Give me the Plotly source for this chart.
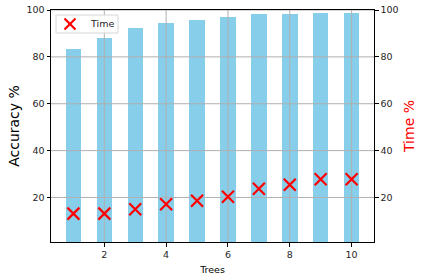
import plotly.graph_objects as go

trees = [1, 2, 3, 4, 5, 6, 7, 8, 9, 10]
accuracy = [83.5, 88.2, 92.5, 94.6, 95.9, 97.2, 98.1, 98.5, 98.9, 98.9]
time_pct = [13.1, 13.1, 15.0, 17.1, 18.6, 20.3, 23.7, 25.4, 27.8, 27.8]
x_ticks = [2, 4, 6, 8, 10]
y_ticks = [20, 40, 60, 80, 100]
legend_label = "Time"

x_range = [0.275, 10.725]
y_range = [1, 100]

W, H = 424, 280
ML, MR, MT, MB = 51, 50, 10, 38
PW, PH = W - ML - MR, H - MT - MB

FONT = "DejaVu Sans"
GRID = "#b0b0b0"

fig = go.Figure()
fig.add_trace(go.Bar(
    x=trees, y=accuracy, width=0.5,
    marker=dict(color="#87CEEB", line=dict(width=0)),
    showlegend=False, hoverinfo="skip", yaxis="y",
))

# grid lines drawn above bars (as in the reference)
gx, gy = [], []
for t in x_ticks:
    gx += [t, t, None]
    gy += [y_range[0], y_range[1], None]
for t in y_ticks:
    gx += [x_range[0], x_range[1], None]
    gy += [t, t, None]
fig.add_trace(go.Scatter(
    x=gx, y=gy, mode="lines", line=dict(color=GRID, width=1),
    showlegend=False, hoverinfo="skip", yaxis="y", cliponaxis=True,
))

fig.add_trace(go.Scatter(
    x=trees, y=time_pct, mode="markers", name=legend_label,
    marker=dict(symbol="x-thin", size=12, color="red",
                line=dict(width=2.2, color="red")),
    yaxis="y2", showlegend=False,
))

# compact matplotlib-style legend (pixel offsets inside the plot area)
def px(xp):
    return (xp - ML) / PW

def py(yp):
    return (H - MB - yp) / PH

fig.add_shape(type="rect", xref="paper", yref="paper",
              x0=px(56), x1=px(118), y0=py(33), y1=py(15),
              line=dict(color="#d6d6d6", width=1),
              fillcolor="rgba(255,255,255,0.85)", layer="above")
fig.add_shape(type="line", xref="paper", yref="paper",
              x0=px(64.5), x1=px(75.5), y0=py(18.5), y1=py(29.5),
              line=dict(color="red", width=2.2), layer="above")
fig.add_shape(type="line", xref="paper", yref="paper",
              x0=px(64.5), x1=px(75.5), y0=py(29.5), y1=py(18.5),
              line=dict(color="red", width=2.2), layer="above")
fig.add_annotation(xref="paper", yref="paper", x=px(88), y=py(24),
                   xanchor="left", yanchor="middle", showarrow=False,
                   text=legend_label,
                   font=dict(family=FONT, size=9.5, color="#262626"))

axis_common = dict(
    showline=True, linecolor="black", linewidth=1,
    ticks="outside", ticklen=3.5, tickwidth=1, tickcolor="black",
    showgrid=False, zeroline=False, automargin=False,
    tickfont=dict(family=FONT, size=9.5, color="#262626"),
)

fig.update_layout(
    width=W, height=H,
    margin=dict(l=ML, r=MR, t=MT, b=MB, autoexpand=False),
    paper_bgcolor="white", plot_bgcolor="white",
    font=dict(family=FONT),
    bargap=0, showlegend=False,
    xaxis=dict(
        range=x_range, tickvals=x_ticks, mirror=True,
        title=dict(text="Trees", font=dict(family=FONT, size=9.5, color="black"), standoff=7),
        **axis_common,
    ),
    yaxis=dict(
        range=y_range, tickvals=y_ticks,
        title=dict(text="Accuracy %", font=dict(family=FONT, size=14, color="black"), standoff=3),
        **axis_common,
    ),
    yaxis2=dict(
        range=y_range, tickvals=y_ticks, overlaying="y", side="right",
        title=dict(text="Time %", font=dict(family=FONT, size=14, color="red"), standoff=6),
        **axis_common,
    ),
)

fig.write_html(
    "out.html",
    config={"displayModeBar": False},
    post_script="document.body.style.margin='0';document.body.style.padding='0';",
)
